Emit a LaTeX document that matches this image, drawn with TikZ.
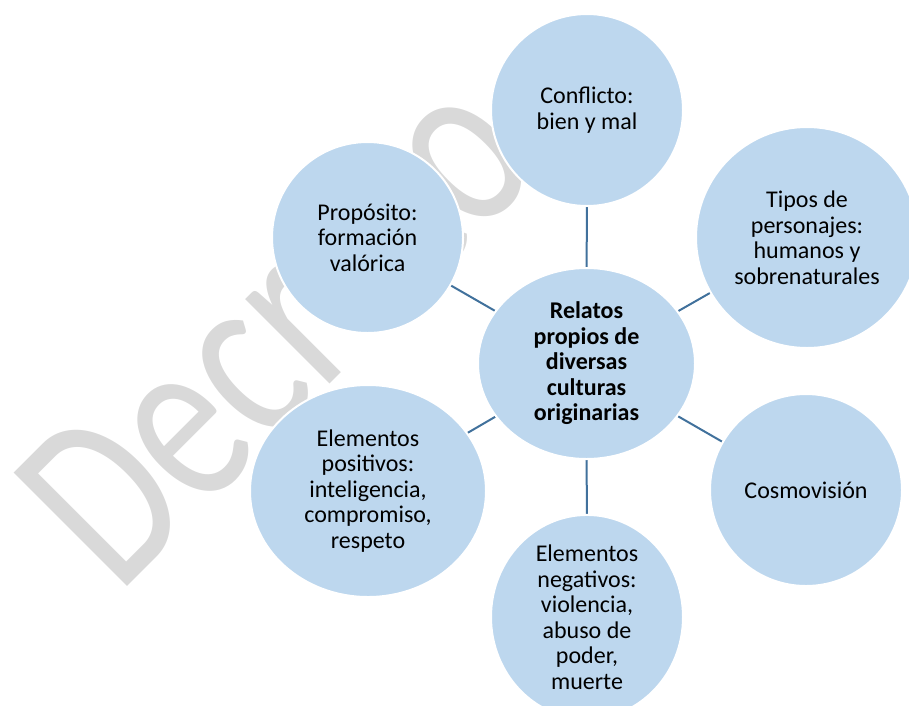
\documentclass[tikz,border=0pt]{standalone}
\usepackage{fontspec}
\setmainfont{Carlito}
\usetikzlibrary{shapes.geometric}
\definecolor{bubble}{HTML}{BDD7EE}
\definecolor{linkc}{HTML}{41719C}
\definecolor{wmark}{HTML}{D9D9D9}
\tikzset{
  bubble/.style={ellipse, fill=bubble, draw=white, line width=2pt, inner sep=0pt,
    align=center, font=\fontsize{24}{25.5}\selectfont},
  link/.style={draw=linkc, line width=2pt},
}
\begin{document}
\begin{tikzpicture}[x=1pt,y=-1pt]
\useasboundingbox (0,0) rectangle (909,705);
\clip (0,0) rectangle (909,705);
% watermark
\node[anchor=base west, rotate=45, xscale=0.75, text=wmark, inner sep=0pt,
  font=\fontsize{250}{250}\selectfont] (wm) at (118,596) {Decreto};
% connector anchors (centres)
\coordinate (cC) at (586.5,363.5);
\coordinate (cConf) at (587,110);
\coordinate (cProp) at (367.5,237.5);
\coordinate (cTip) at (807,237.5);
\coordinate (cCos) at (806,490);
\coordinate (cPos) at (368,491);
\coordinate (cNeg) at (587,617);
\draw[link] (cC) -- (cConf);
\draw[link] (cC) -- (cProp);
\draw[link] (cC) -- (cTip);
\draw[link] (cC) -- (cCos);
\draw[link] (cC) -- (cPos);
\draw[link] (cC) -- (cNeg);
% bubbles
\node[bubble, minimum width=217pt, minimum height=191pt, font=\fontsize{24}{25.5}\selectfont\bfseries] (center) at (cC)
  {Relatos\\propios de\\diversas\\culturas\\originarias};
\node[bubble, minimum width=192pt, minimum height=192pt] (conf) at (cConf) {Conflicto:\\bien y mal};
\node[bubble, minimum width=191pt, minimum height=191pt] (prop) at (cProp) {Propósito:\\formación\\valórica};
\node[bubble, minimum width=222pt, minimum height=221pt] (tip) at (cTip) {Tipos de\\personajes:\\humanos y\\sobrenaturales};
\node[bubble, minimum width=192pt, minimum height=192pt] (cos) at (cCos) {Cosmovisión};
\node[bubble, minimum width=236pt, minimum height=212pt] (pos) at (cPos) {Elementos\\positivos:\\inteligencia,\\compromiso,\\respeto};
\node[bubble, minimum width=192pt, minimum height=192pt] (neg) at (cNeg) {Elementos\\negativos:\\violencia,\\abuso de\\poder,\\muerte};
\end{tikzpicture}
\end{document}
